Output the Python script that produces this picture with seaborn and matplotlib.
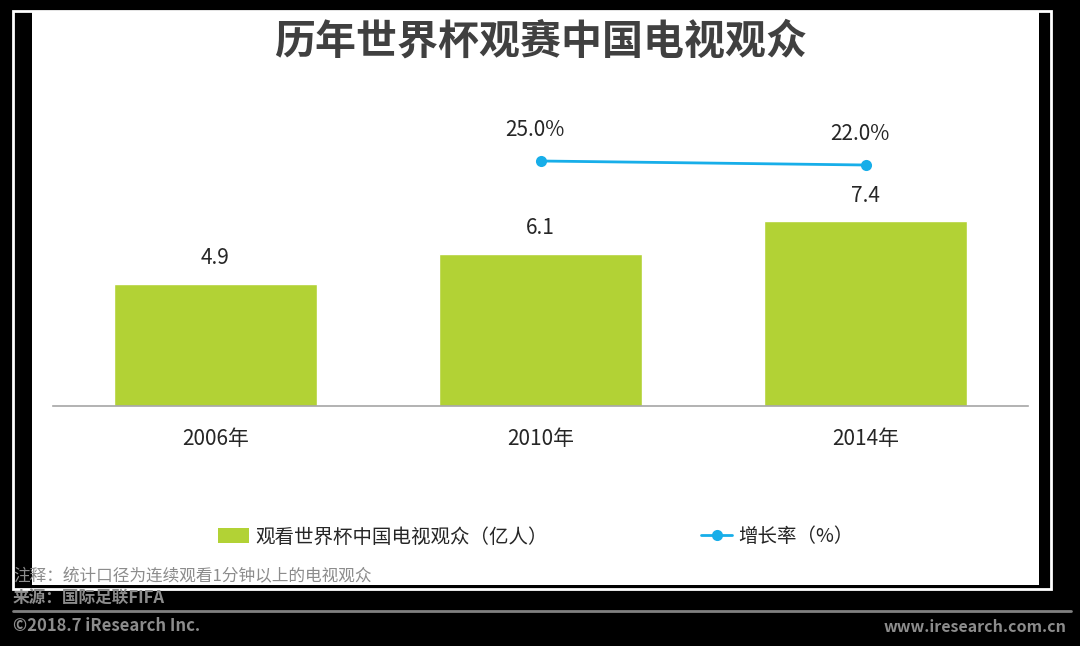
import matplotlib
matplotlib.use("Agg")
import matplotlib.pyplot as plt
import seaborn as sns
from matplotlib.patches import Rectangle, Patch
from matplotlib.lines import Line2D

# data
years = ["2006年", "2010年", "2014年"]
viewers = [4.9, 6.1, 7.4]
growth_years = ["2010年", "2014年"]
growth = [25.0, 22.0]

title = "历年世界杯观赛中国电视观众"
bar_name = "观看世界杯中国电视观众（亿人）"
line_name = "增长率（%）"
note = "注释：统计口径为连续观看1分钟以上的电视观众"
source = "来源：国际足联FIFA"
copyright_text = "©2018.7 iResearch Inc."
site = "www.iresearch.com.cn"

BAR_COLOR = "#b2d235"
LINE_COLOR = "#17aee9"
TEXT_COLOR = "#262626"
GREY = "#8c8c8c"

W, H = 1080, 646

sns.set_theme(style="white")
plt.rcParams["font.family"] = ["Noto Sans CJK SC", "DejaVu Sans"]

fig = plt.figure(figsize=(W / 100, H / 100), dpi=100, facecolor="black")


def box(x0, y0, x1, y1):
    """pixel box (top-left origin) -> figure fraction rect"""
    return x0 / W, 1 - y1 / H, (x1 - x0) / W, (y1 - y0) / H


# white frame line and the white panel
bx = box(13, 11, 1051, 589)
fig.add_artist(Rectangle(bx[:2], bx[2], bx[3], transform=fig.transFigure,
                         facecolor="none", edgecolor="white", lw=2, zorder=-2))
bx = box(32, 11, 1039, 585)
fig.add_artist(Rectangle(bx[:2], bx[2], bx[3], transform=fig.transFigure,
                         facecolor="white", edgecolor="none", zorder=-1))

# main axes: baseline at y=406px, x from 53 to 1028
ax = fig.add_axes(box(53, 100, 1028, 406))
ax.patch.set_visible(False)

sns.barplot(x=years, y=viewers, color=BAR_COLOR, saturation=1, width=0.625, ax=ax)
ax.set_xlim(-0.5, 2.5)
ax.set_ylim(0, 306 / 25)
ax.set_xlabel("")
ax.set_ylabel("")
ax.set_yticks([])
ax.tick_params(axis="x", length=0, pad=16, labelsize=15, labelcolor=TEXT_COLOR)
for s in ["top", "left", "right"]:
    ax.spines[s].set_visible(False)
ax.spines["bottom"].set_color("#a6a6a6")
ax.spines["bottom"].set_linewidth(1.2)

for i, v in enumerate(viewers):
    ax.annotate(f"{v:.1f}", (i, v), xytext=(0, 18), textcoords="offset points",
                ha="center", va="center", fontsize=15, color=TEXT_COLOR)

# growth rate on a twin axis
ax2 = ax.twinx()
gx = [years.index(y) for y in growth_years]
sns.lineplot(x=gx, y=growth, color=LINE_COLOR, marker="o", markersize=8,
             markeredgewidth=0, linewidth=2, ax=ax2)
ax2.set_xlim(-0.5, 2.5)
ax2.set_ylim(-158.75, 70.75)
ax2.axis("off")
for x, v in zip(gx, growth):
    ax2.annotate(f"{v:.1f}%", (x, v), xytext=(-4, 22), textcoords="offset points",
                 ha="center", va="center", fontsize=15, color=TEXT_COLOR)

fig.text(541 / W, 1 - 42 / H, title, ha="center", va="center",
         fontsize=29.5, fontweight="bold", color="#404040")

handles = [
    Patch(facecolor=BAR_COLOR, edgecolor="none", label=bar_name),
    Line2D([0], [0], color=LINE_COLOR, lw=2, marker="o", markersize=8,
           markeredgewidth=0, label=line_name),
]
fig.legend(handles=handles, loc="center", bbox_to_anchor=(536 / W, 1 - 537 / H),
           ncol=2, frameon=False, fontsize=14, handlelength=1.6, handleheight=0.8,
           handletextpad=0.3, columnspacing=7.9, labelcolor=TEXT_COLOR)

# footer
fig.text(13 / W, 1 - 577 / H, note, ha="left", va="center", fontsize=12, color=GREY)
fig.text(13 / W, 1 - 598 / H, source, ha="left", va="center", fontsize=12,
         fontweight="bold", color=GREY)
fig.add_artist(Line2D([13 / W, 1071 / W], [1 - 611 / H, 1 - 611 / H],
                      transform=fig.transFigure, color="#808080", lw=2))
fig.text(13 / W, 1 - 626 / H, copyright_text, ha="left", va="center", fontsize=12,
         fontweight="bold", color=GREY)
fig.text(1067 / W, 1 - 627 / H, site, ha="right", va="center", fontsize=11.5,
         fontweight="bold", color=GREY)

fig.savefig("out.png", dpi=100, facecolor=fig.get_facecolor())
